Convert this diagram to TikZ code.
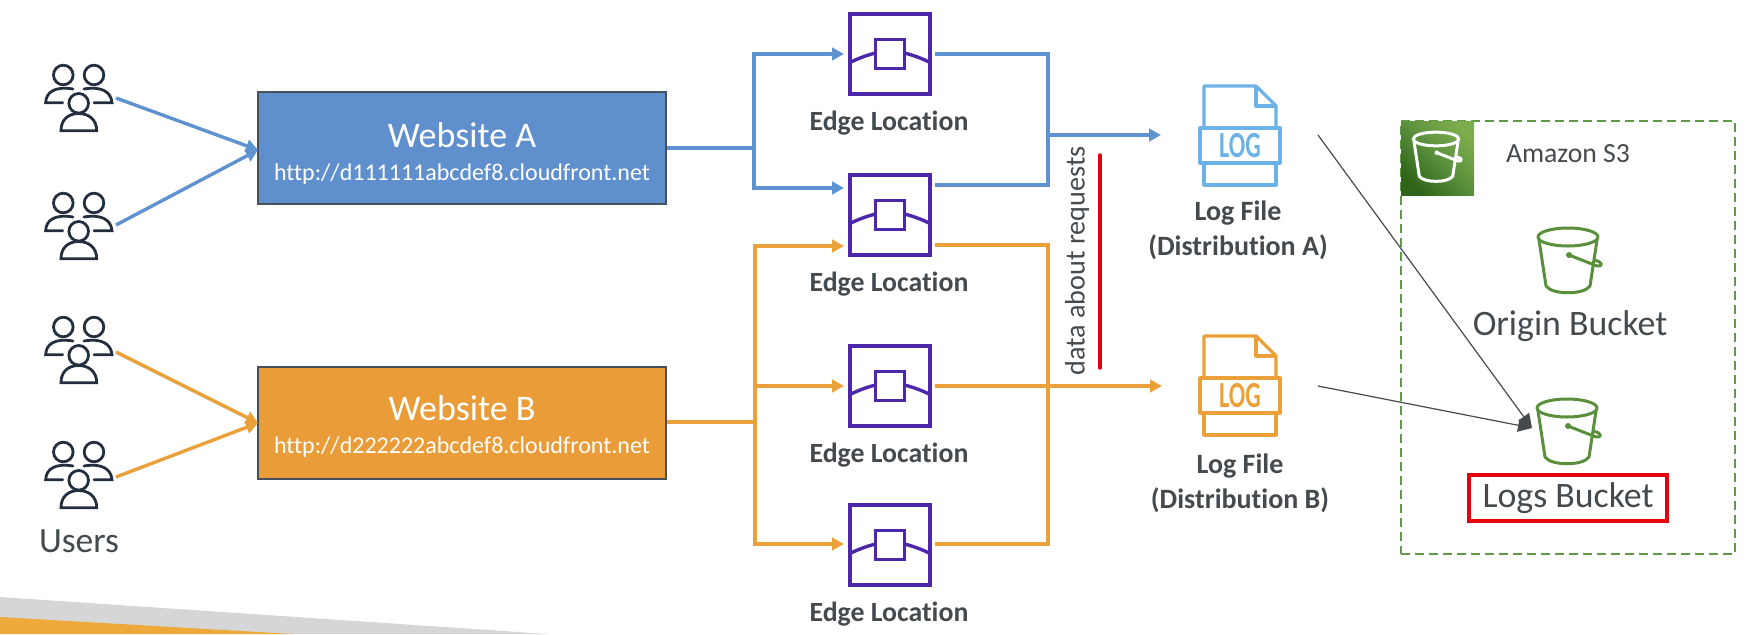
\documentclass[tikz,border=0pt]{standalone}
\usepackage{fontspec}
\usepackage{graphicx}
\setmainfont{Carlito}[Ligatures=NoCommon]
\usetikzlibrary{arrows.meta}
\definecolor{bluefill}{HTML}{5F8FCC}
\definecolor{blueline}{HTML}{5F92D0}
\definecolor{logblue}{HTML}{6CB2E6}
\definecolor{orangefill}{HTML}{E99C37}
\definecolor{orangeline}{HTML}{EBA13A}
\definecolor{purpleedge}{HTML}{4D27AA}
\definecolor{inktext}{HTML}{444A4E}
\definecolor{boxborder}{HTML}{46505A}
\definecolor{usersink}{HTML}{232F3E}
\definecolor{greenbucket}{HTML}{5A8F3C}
\definecolor{greendash}{HTML}{5F9A45}
\definecolor{greendark}{HTML}{2F6519}
\definecolor{greenlight}{HTML}{7CAC4C}
\definecolor{redmark}{HTML}{E3000F}
\definecolor{greydeco}{HTML}{D6D6D6}
\definecolor{orangedeco}{HTML}{EDAA3A}
\newcommand{\fs}[1]{\fontsize{#1}{#1}\selectfont}
\tikzset{
  x=1pt,y=-1pt,
  sitebox/.style={draw=boxborder,line width=2pt,minimum width=408pt,minimum height=112pt,inner sep=0pt},
  edgebox/.style={draw=purpleedge,line width=3.4pt,minimum width=80pt,minimum height=80pt,inner sep=0pt},
  edgelabel/.style={text=inktext,font=\fs{27.8}\bfseries,inner sep=0pt},
  loglabel/.style={text=inktext,font=\fs{28}\bfseries,inner sep=0pt,align=center},
  bucketlabel/.style={text=inktext,font=\fs{35.8},inner sep=0pt},
  bluearrow/.style={draw=blueline,line width=3.4pt,-{Triangle[length=12pt,width=12.5pt,fill=blueline]}},
  orangearrow/.style={draw=orangeline,line width=3.4pt,-{Triangle[length=12pt,width=12.5pt,fill=orangeline]}},
  blueplain/.style={draw=blueline,line width=3.4pt},
  orangeplain/.style={draw=orangeline,line width=3.4pt},
  thinarrow/.style={draw=inktext,line width=1.2pt,-{Triangle[length=14pt,width=13pt,fill=inktext]}},
  usersicon/.pic={
    \begin{scope}[draw=usersink,line width=2.8pt,line cap=round]
      \draw (18.3,11) circle (9.8);
      \draw (49,11) circle (9.8);
      \draw (33.7,39.3) circle (9.8);
      \draw (28,25) .. controls (10,22) and (1,28) .. (0.7,38.7) -- (17.7,38.7);
      \draw (39,25) .. controls (57,22) and (66,28) .. (67,38.7) -- (49,38.7);
      \draw (16,66.7) .. controls (16,55) and (24,49.5) .. (33.7,49.5)
            .. controls (43,49.5) and (51.7,55) .. (51.7,66.7) -- cycle;
    \end{scope}
  },
  edgeglyph/.pic={
    \draw[purpleedge,line width=3.4pt] (-14.5,-14.5) rectangle (14.5,14.5);
    \draw[purpleedge,line width=3.4pt] (-39,8) .. controls (-32,4.5) and (-24,1.5) .. (-14.5,-1);
    \draw[purpleedge,line width=3.4pt] (39,8) .. controls (32,4.5) and (24,1.5) .. (14.5,-1);
  },
  pics/logicon/.style={code={
    \begin{scope}[draw=#1,line width=3.2pt,line join=round]
      \draw (-36,0) -- (-36,-42) -- (16,-42) -- (36,-22) -- (36,0);
      \draw (16,-42) -- (16,-22) -- (36,-22);
      \draw (-40,0) rectangle (40,35);
      \draw (-36,35) -- (-36,57) -- (36,57) -- (36,35);
    \end{scope}
    \node[text=#1,font=\fs{32}\bfseries,inner sep=0pt] at (0,18) {\scalebox{.76}[1.15]{LOG}};
  }},
  pics/bucketicon/.style={code={
    \begin{scope}[draw=#1,line width=3pt,line join=round,line cap=round]
      \draw (0,0) ellipse (30 and 9);
      \draw (-29,3) -- (-22,49) .. controls (-16,58) and (16,58) .. (22,49) -- (29,3);
      \draw (1,18) -- (29,29) .. controls (35,30) and (35,25) .. (27.5,23.5);
      \fill[#1] (1,18) circle (3);
    \end{scope}
  }},
}
\begin{document}
\begin{tikzpicture}
\useasboundingbox (0,0) rectangle (1752,634);
% decorative corner
\fill[greydeco] (0,597) -- (548,634) -- (0,634) -- cycle;
\fill[orangedeco] (0,617) -- (293,634) -- (0,634) -- cycle;

% users
\pic at (45,64) {usersicon};
\pic at (45,192) {usersicon};
\pic at (45,316) {usersicon};
\pic at (45,441) {usersicon};
\coordinate (u1) at (116,98);
\coordinate (u2) at (116,225);
\coordinate (u3) at (116,352);
\coordinate (u4) at (116,477);
\node[text=inktext,font=\fs{35.5},inner sep=0pt] (userslabel) at (79,541) {Users};

% websites
\node[sitebox,fill=bluefill] (siteA) at (462,148) {};
\node[sitebox,fill=orangefill] (siteB) at (462,423) {};
\node[text=white,font=\fs{36},inner sep=0pt] (siteAt) at (462,135) {Website A};
\node[text=white,font=\fs{24},inner sep=0pt] (siteAu) at (462,174) {http://d111111abcdef8.cloudfront.net};
\node[text=white,font=\fs{36},inner sep=0pt] (siteBt) at (462,408) {Website B};
\node[text=white,font=\fs{24},inner sep=0pt] (siteBu) at (462,447) {http://d222222abcdef8.cloudfront.net};

% edge locations
\foreach \n/\yy in {e1/54,e2/215,e3/386,e4/545}{
  \node[edgebox] (\n) at (890,\yy) {};
  \pic at (890,\yy) {edgeglyph};
}
\node[edgelabel] (e1l) at (889,123) {Edge Location};
\node[edgelabel] (e2l) at (889,284) {Edge Location};
\node[edgelabel] (e3l) at (889,455) {Edge Location};
\node[edgelabel] (e4l) at (889,614) {Edge Location};

% log files
\pic at (1240,128) {logicon=logblue};
\pic at (1240,378) {logicon=orangeline};
\coordinate (logA) at (1161,135);
\coordinate (logB) at (1162,386);
\node[loglabel] (logAl) at (1238,230) {Log File\\[7pt](Distribution A)};
\node[loglabel] (logBl) at (1240,483) {Log File\\[7pt](Distribution B)};

% junctions and ports
\coordinate (ja) at (754,148);
\coordinate (jb) at (755,422);
\coordinate (e1i) at (844,54);
\coordinate (e2ia) at (844,188);
\coordinate (e2ib) at (844,246);
\coordinate (e3i) at (844,386);
\coordinate (e4i) at (844,544);
\coordinate (ra) at (1048,135);
\coordinate (rb) at (1048,386);
\coordinate (e1o) at (935,54);
\coordinate (e2oa) at (935,185);
\coordinate (e2ob) at (935,245);
\coordinate (e3o) at (935,386);
\coordinate (e4o) at (935,544);

% user arrows
\draw[bluearrow] (u1) -- (258,150);
\draw[bluearrow] (u2) -- (258,150);
\draw[orangearrow] (u3) -- (258,423);
\draw[orangearrow] (u4) -- (258,423);

% blue connectors
\draw[blueplain] (siteA.east) -- (ja);
\draw[bluearrow] (ja) |- (e1i);
\draw[bluearrow] (ja) |- (e2ia);
\draw[blueplain] (e1o) -| (ra);
\draw[blueplain] (e2oa) -| (ra);
\draw[bluearrow] (ra) -- (logA);

% orange connectors
\draw[orangeplain,line width=4.2pt] (siteB.east |- jb) -- (jb);
\draw[orangearrow] (jb) |- (e2ib);
\draw[orangearrow] (jb) |- (e3i);
\draw[orangearrow] (jb) |- (e4i);
\draw[orangeplain] (e2ob) -| (rb);
\draw[orangeplain] (e4o) -| (rb);
\draw[orangeplain] (e3o) -- (rb);
\draw[orangearrow,line width=4pt] (rb) -- (logB);

% data about requests
\node[rotate=90,text=inktext,font=\fs{28.2},inner sep=0pt] (dar) at (1077,261) {data about requests};
\coordinate (rt) at (1100,155);
\coordinate (rbm) at (1100,368);
\draw[redmark,line width=3.5pt,line cap=round] (rt) -- (rbm);

% S3 group
\node[draw=greendash,dash pattern=on 9pt off 5pt,line width=2pt,minimum width=334pt,minimum height=433pt,inner sep=0pt] (s3) at (1568,337.5) {};
\node[minimum width=73pt,minimum height=74pt,inner sep=0pt,bottom color=greendark,top color=greenlight,middle color=greenbucket,shading angle=-45] (s3sq) at (1437.5,158) {};
\pic[scale=.76] at (1436,139) {bucketicon=white};
\node[text=inktext,font=\fs{27.7},inner sep=0pt] (s3l) at (1568,154) {Amazon S3};
\pic at (1568,237) {bucketicon=greenbucket};
\pic at (1567,408) {bucketicon=greenbucket};
\coordinate (bk) at (1532,428);
\node[bucketlabel] (oblabel) at (1570,326) {Origin Bucket};
\node[bucketlabel,draw=redmark,line width=3.5pt,minimum width=198pt,minimum height=46pt] (lblabel) at (1568,498) {\raisebox{-3.5pt}{Logs Bucket}};

% thin arrows
\coordinate (ta) at (1318,135);
\coordinate (tb) at (1318,386);
\draw[thinarrow] (ta) -- (bk);
\draw[thinarrow] (tb) -- (bk);
\end{tikzpicture}
\end{document}
